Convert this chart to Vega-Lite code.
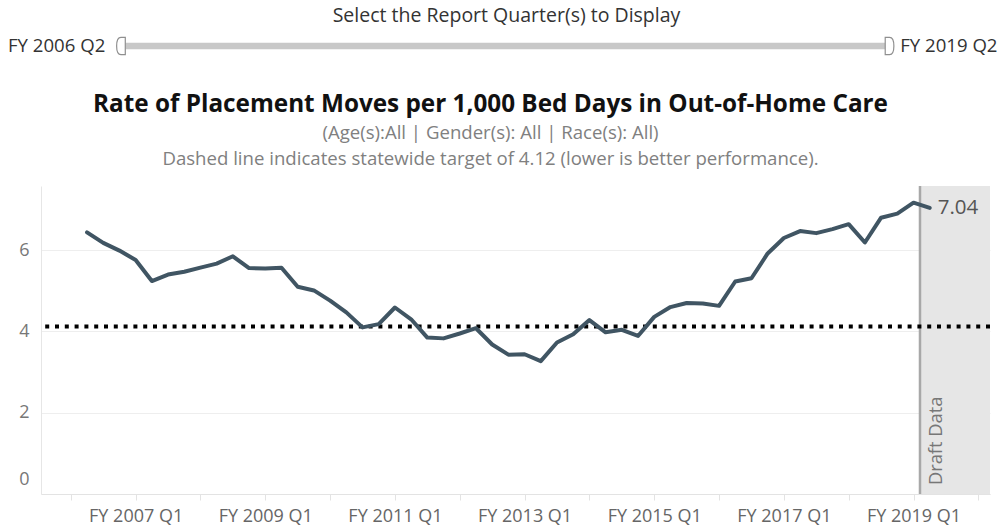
{
  "$schema": "https://vega.github.io/schema/vega-lite/v6.json",
  "padding": {"left": 8, "top": 6, "right": 2, "bottom": 0},
  "spacing": 35,
  "config": {"view": {"stroke": null}, "font": "Open Sans", "title": {"font": "Open Sans", "subtitleFont": "Open Sans"}},
  "datasets": {
    "rates": [
      {"q": 1, "rate": 6.44}, {"q": 2, "rate": 6.18}, {"q": 3, "rate": 5.99}, {"q": 4, "rate": 5.76},
      {"q": 5, "rate": 5.24}, {"q": 6, "rate": 5.40}, {"q": 7, "rate": 5.47}, {"q": 8, "rate": 5.57},
      {"q": 9, "rate": 5.67}, {"q": 10, "rate": 5.85}, {"q": 11, "rate": 5.56}, {"q": 12, "rate": 5.55},
      {"q": 13, "rate": 5.57}, {"q": 14, "rate": 5.10}, {"q": 15, "rate": 5.01}, {"q": 16, "rate": 4.76},
      {"q": 17, "rate": 4.47}, {"q": 18, "rate": 4.10}, {"q": 19, "rate": 4.18}, {"q": 20, "rate": 4.59},
      {"q": 21, "rate": 4.30}, {"q": 22, "rate": 3.85}, {"q": 23, "rate": 3.83}, {"q": 24, "rate": 3.95},
      {"q": 25, "rate": 4.08}, {"q": 26, "rate": 3.68}, {"q": 27, "rate": 3.43}, {"q": 28, "rate": 3.44},
      {"q": 29, "rate": 3.27}, {"q": 30, "rate": 3.73}, {"q": 31, "rate": 3.93}, {"q": 32, "rate": 4.28},
      {"q": 33, "rate": 3.98}, {"q": 34, "rate": 4.04}, {"q": 35, "rate": 3.89}, {"q": 36, "rate": 4.36},
      {"q": 37, "rate": 4.60}, {"q": 38, "rate": 4.70}, {"q": 39, "rate": 4.69}, {"q": 40, "rate": 4.63},
      {"q": 41, "rate": 5.23}, {"q": 42, "rate": 5.31}, {"q": 43, "rate": 5.92}, {"q": 44, "rate": 6.30},
      {"q": 45, "rate": 6.47}, {"q": 46, "rate": 6.42}, {"q": 47, "rate": 6.52}, {"q": 48, "rate": 6.64},
      {"q": 49, "rate": 6.19}, {"q": 50, "rate": 6.80}, {"q": 51, "rate": 6.90}, {"q": 52, "rate": 7.17},
      {"q": 53, "rate": 7.04}
    ],
    "slider": [{"from": 1, "to": 53, "fromLabel": "FY 2006 Q2", "toLabel": "FY 2019 Q2", "pos": 0}],
    "target": [{"target": 4.12}],
    "draft": [{"draftFrom": 52.4, "draftTo": 56.72, "draftLabel": "Draft Data"}]
  },
  "vconcat": [
    {
      "width": 949,
      "height": 14,
      "title": {"text": "Select the Report Quarter(s) to Display", "fontSize": 19.5, "fontWeight": "normal", "color": "#333333", "anchor": "middle", "dx": -9, "offset": 8},
      "data": {"name": "slider"},
      "layer": [
        {
          "mark": {"type": "rule", "color": "#c8c8c8", "strokeWidth": 6.5},
          "encoding": {
            "x": {"field": "from", "type": "quantitative", "scale": {"domain": [-4.768, 60.17], "nice": false, "zero": false}, "axis": null},
            "x2": {"field": "to"},
            "y": {"field": "pos", "type": "quantitative", "scale": {"domain": [-1, 1]}, "axis": null}
          }
        },
        {
          "mark": {"type": "point", "shape": "M0,-1 L-0.5,-1 Q-1,-1 -1,0 Q-1,1 -0.5,1 L0,1 Z", "filled": true, "fill": "white", "stroke": "#8f8f8f", "strokeWidth": 1.2, "size": 300, "opacity": 1},
          "encoding": {
            "x": {"field": "from", "type": "quantitative", "scale": {"domain": [-4.768, 60.17], "nice": false, "zero": false}, "axis": null},
            "y": {"field": "pos", "type": "quantitative", "scale": {"domain": [-1, 1]}, "axis": null}
          }
        },
        {
          "mark": {"type": "point", "shape": "M0,-1 L0.5,-1 Q1,-1 1,0 Q1,1 0.5,1 L0,1 Z", "filled": true, "fill": "white", "stroke": "#8f8f8f", "strokeWidth": 1.2, "size": 300, "opacity": 1},
          "encoding": {
            "x": {"field": "to", "type": "quantitative", "scale": {"domain": [-4.768, 60.17], "nice": false, "zero": false}, "axis": null},
            "y": {"field": "pos", "type": "quantitative", "scale": {"domain": [-1, 1]}, "axis": null}
          }
        },
        {
          "mark": {"type": "text", "align": "right", "baseline": "middle", "dx": -20, "fontSize": 18.6, "color": "#333333"},
          "encoding": {
            "x": {"field": "from", "type": "quantitative", "scale": {"domain": [-4.768, 60.17], "nice": false, "zero": false}, "axis": null},
            "y": {"field": "pos", "type": "quantitative", "scale": {"domain": [-1, 1]}, "axis": null},
            "text": {"field": "fromLabel"}
          }
        },
        {
          "mark": {"type": "text", "align": "left", "baseline": "middle", "dx": 15, "fontSize": 18.6, "color": "#333333"},
          "encoding": {
            "x": {"field": "to", "type": "quantitative", "scale": {"domain": [-4.768, 60.17], "nice": false, "zero": false}, "axis": null},
            "y": {"field": "pos", "type": "quantitative", "scale": {"domain": [-1, 1]}, "axis": null},
            "text": {"field": "toLabel"}
          }
        }
      ]
    },
    {
      "width": 949,
      "height": 308,
      "title": {
        "text": "Rate of Placement Moves per 1,000 Bed Days in Out-of-Home Care",
        "subtitle": ["(Age(s):All | Gender(s): All | Race(s): All)", "Dashed line indicates statewide target of 4.12 (lower is better performance)."],
        "fontSize": 24.3, "fontWeight": "bold", "color": "#111111",
        "subtitleColor": "#808080", "subtitleFontSize": 18.6, "subtitlePadding": 6.5, "subtitleLineHeight": 26,
        "anchor": "middle", "dx": -25, "offset": 16
      },
      "layer": [
        {
          "data": {"name": "draft"},
          "mark": {"type": "rect", "color": "#e6e6e6"},
          "encoding": {
            "x": {"field": "draftFrom", "type": "quantitative", "scale": {"domain": [-1.84, 56.72], "nice": false, "zero": false},
              "axis": {"values": [0, 4, 8, 12, 16, 20, 24, 28, 32, 36, 40, 44, 48, 52, 56], "labelExpr": "datum.value % 8 == 4 ? 'FY ' + (2006 + datum.value / 4) + ' Q1' : ''", "grid": false, "domainColor": "#e3e3e3", "tickColor": "#e3e3e3", "tickSize": 6, "labelColor": "#666666", "labelFontSize": 18, "labelPadding": 7, "labelFlush": false, "labelOverlap": false, "title": null}},
            "x2": {"field": "draftTo"}
          }
        },
        {
          "data": {"name": "draft"},
          "mark": {"type": "rule", "color": "#a8a8a8", "strokeWidth": 2.5},
          "encoding": {
            "x": {"field": "draftFrom", "type": "quantitative", "scale": {"domain": [-1.84, 56.72], "nice": false, "zero": false}}
          }
        },
        {
          "data": {"name": "draft"},
          "mark": {"type": "text", "angle": 270, "align": "left", "baseline": "middle", "dy": 17, "fontSize": 18.3, "color": "#777777"},
          "encoding": {
            "x": {"field": "draftFrom", "type": "quantitative", "scale": {"domain": [-1.84, 56.72], "nice": false, "zero": false}},
            "y": {"datum": 0.22, "type": "quantitative", "scale": {"domain": [0, 7.58], "nice": false, "zero": false}},
            "text": {"field": "draftLabel"}
          }
        },
        {
          "data": {"name": "target"},
          "mark": {"type": "rule", "color": "#000000", "strokeWidth": 4, "strokeDash": [4, 5.8]},
          "encoding": {
            "y": {"field": "target", "type": "quantitative", "scale": {"domain": [0, 7.58], "nice": false, "zero": false}}
          }
        },
        {
          "data": {"name": "rates"},
          "mark": {"type": "line", "color": "#405563", "strokeWidth": 4, "strokeJoin": "round", "strokeCap": "round"},
          "encoding": {
            "x": {"field": "q", "type": "quantitative", "scale": {"domain": [-1.84, 56.72], "nice": false, "zero": false}},
            "y": {"field": "rate", "type": "quantitative", "scale": {"domain": [0, 7.58], "nice": false, "zero": false},
              "axis": {"values": [0, 2, 4, 6], "grid": true, "gridColor": "#eeeeee", "domainColor": "#e6e6e6", "ticks": false, "labelColor": "#777777", "labelFontSize": 18, "labelPadding": 12, "labelFlush": false, "labelOffset": {"condition": {"test": "datum.value == 0", "value": -15}, "value": 0}, "title": null}}
          }
        },
        {
          "data": {"name": "rates"},
          "transform": [{"filter": "datum.q == 53"}],
          "mark": {"type": "text", "align": "left", "baseline": "middle", "dx": 8, "fontSize": 20.5, "color": "#555555"},
          "encoding": {
            "x": {"field": "q", "type": "quantitative", "scale": {"domain": [-1.84, 56.72], "nice": false, "zero": false}},
            "y": {"field": "rate", "type": "quantitative", "scale": {"domain": [0, 7.58], "nice": false, "zero": false}},
            "text": {"field": "rate", "type": "quantitative", "format": ".2f"}
          }
        }
      ]
    }
  ]
}
